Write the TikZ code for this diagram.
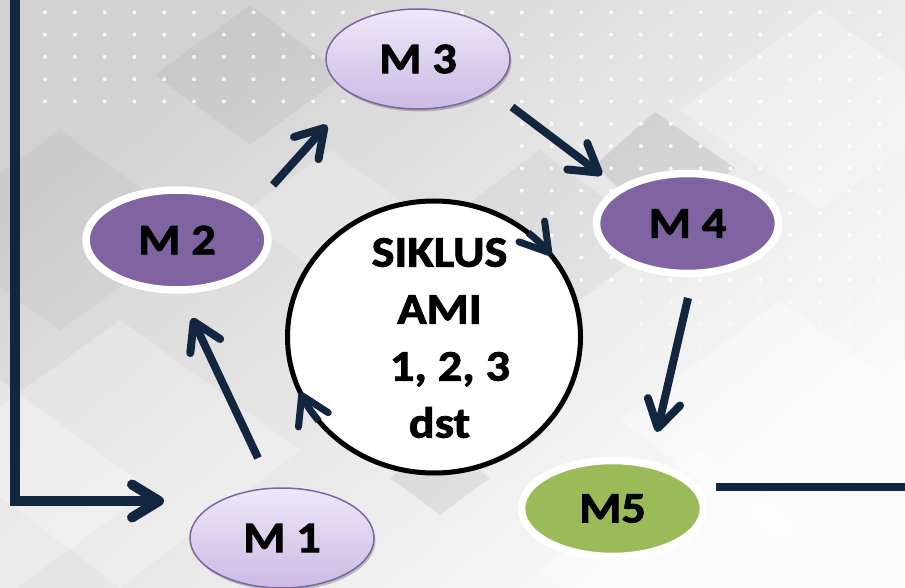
\documentclass[tikz,border=0pt]{standalone}
\usepackage{fontspec}
\setmainfont{Carlito}
\newfontfamily\widefont[FakeStretch=1.11, BoldFeatures={FakeBold=2}]{Carlito}
\usetikzlibrary{shapes.geometric,arrows.meta,shadows,calc}
\definecolor{navy}{HTML}{13263F}
\definecolor{mpurple}{HTML}{8064A2}
\definecolor{mgreen}{HTML}{9BBB59}
\definecolor{lpurtop}{HTML}{EEE8F7}
\definecolor{lpurbot}{HTML}{CBBAE5}
\definecolor{bgdark}{HTML}{D2D2D2}
\definecolor{bglight}{HTML}{FBFBFB}
\begin{document}
\begin{tikzpicture}[x=1pt,y=1pt,
  arr/.style={draw=navy, line width=8pt, -{Straight Barb[length=27pt,width=33pt,round]}},
  mlabel/.style={font=\widefont\bfseries\fontsize{43.5}{48}\selectfont, text=black},
  shad/.style={drop shadow={shadow xshift=1.5pt, shadow yshift=-2.5pt, opacity=0.22, fill=black}},
  darkell/.style={ellipse, minimum width=182pt, minimum height=100pt, inner sep=0pt,
    draw=white, line width=7.5pt, mlabel, shad},
  lightell/.style={ellipse, minimum width=184pt, minimum height=100pt, inner sep=0pt,
    draw=mpurple, line width=1.5pt, top color=lpurtop, bottom color=lpurbot, mlabel, shad},
  dotw/.style={fill=white, draw=none},
]
\useasboundingbox (0,0) rectangle (905,-588);
% ---------- background ----------
\shade[top color=bgdark, bottom color=bglight, shading angle=40] (0,0) rectangle (905,-588);
\begin{scope}
\clip (0,0) rectangle (905,-588);
\fill[black, opacity=0.045] (250,-5) -- (345,-75) -- (250,-145) -- (155,-75) -- cycle;
\fill[black, opacity=0.03] (60,-130) -- (200,-230) -- (60,-330) -- (-80,-230) -- cycle;
\fill[white, opacity=0.25] (120,-320) -- (300,-450) -- (120,-588) -- (-60,-450) -- cycle;
\fill[white, opacity=0.30] (0,-380) -- (150,-490) -- (0,-600) -- cycle;
\fill[black, opacity=0.09] (655,-112) -- (735,-168) -- (655,-225) -- (595,-165) -- cycle;
\fill[black, opacity=0.035] (540,-150) -- (660,-240) -- (540,-330) -- (420,-240) -- cycle;
\fill[white, opacity=0.35] (780,-300) -- (940,-420) -- (780,-540) -- (620,-420) -- cycle;
\fill[white, opacity=0.35] (700,-450) -- (860,-570) -- (700,-690) -- (540,-570) -- cycle;
\fill[white, opacity=0.25] (820,-10) -- (960,-110) -- (820,-210) -- (680,-110) -- cycle;
\fill[black, opacity=0.07] (440,-440) -- (490,-478) -- (440,-515) -- (390,-478) -- cycle;
\fill[white, opacity=0.20] (330,-150) -- (420,-215) -- (330,-280) -- (240,-215) -- cycle;
% dots
\foreach \i in {0,...,28} {
  \foreach \j in {0,...,4} {
    \fill[dotw, opacity=0.85] ({45+29.8*\i},{-12.3-22.3*\j}) circle (2);
  }
}
\foreach \i in {16,...,28} {
  \foreach \j in {5,...,12} {
    \fill[dotw, opacity=0.85] ({45+29.8*\i},{-12.3-22.3*\j}) circle (2);
  }
}
\foreach \i in {20,...,28} {
  \foreach \j in {13,...,15} {
    \fill[dotw, opacity=0.45] ({45+29.8*\i},{-12.3-22.3*\j}) circle (2);
  }
}
\end{scope}
% ---------- frame lines ----------
\coordinate (lt) at (15,4);
\coordinate (lc) at (15,-501);
\coordinate (lh) at (164,-501);
\draw[arr, line width=10pt, line join=miter] (lt) -- (lc) -- (lh);
\coordinate (r1) at (716,-487);
\coordinate (r2) at (910,-487);
\draw[navy, line width=8pt] (r1) -- (r2);
% ---------- nodes ----------
\node[lightell] (m3) at (418,-59) {M 3};
\node[darkell, fill=mpurple] (m2) at (177,-240) {M 2};
\node[darkell, fill=mpurple] (m4) at (687.5,-223.5) {M 4};
\node[lightell] (m1) at (282,-538) {M 1};
\node[darkell, fill=mgreen, minimum height=96pt] (m5) at (612.5,-508.5) {M5};
\node[ellipse, draw=black, line width=5pt, fill=white, minimum width=293pt,
  minimum height=272pt, inner sep=0pt, shad] (c) at (434,-337) {};
\node[align=center, inner sep=0pt,
  font=\widefont\bfseries\fontsize{43.5}{57}\selectfont] (ct) at (439.5,-338)
  {SIKLUS\\AMI\\\hspace*{21pt}1, 2, 3\\dst};
% ---------- arrows ----------
\coordinate (a23s) at (273,-185); \coordinate (a23e) at (327,-125);
\coordinate (a34s) at (512,-107); \coordinate (a34e) at (602,-175);
\coordinate (a45s) at (688,-298); \coordinate (a45e) at (657,-432);
\coordinate (a12s) at (258,-458); \coordinate (a12e) at (192,-318);
\draw[arr] (a23s) -- (a23e);
\draw[arr] (a34s) -- (a34e);
\draw[arr] (a45s) -- (a45e);
\draw[arr] (a12s) -- (a12e);
% arrowheads on the circle (clockwise)
\draw[arr, line width=7pt] ($(c)+(50:146.5 and 136)$) arc[start angle=50, end angle=37, x radius=146.5, y radius=136];
\draw[arr, line width=7pt] ($(c)+(218:146.5 and 136)$) arc[start angle=218, end angle=204, x radius=146.5, y radius=136];
\end{tikzpicture}
\end{document}
